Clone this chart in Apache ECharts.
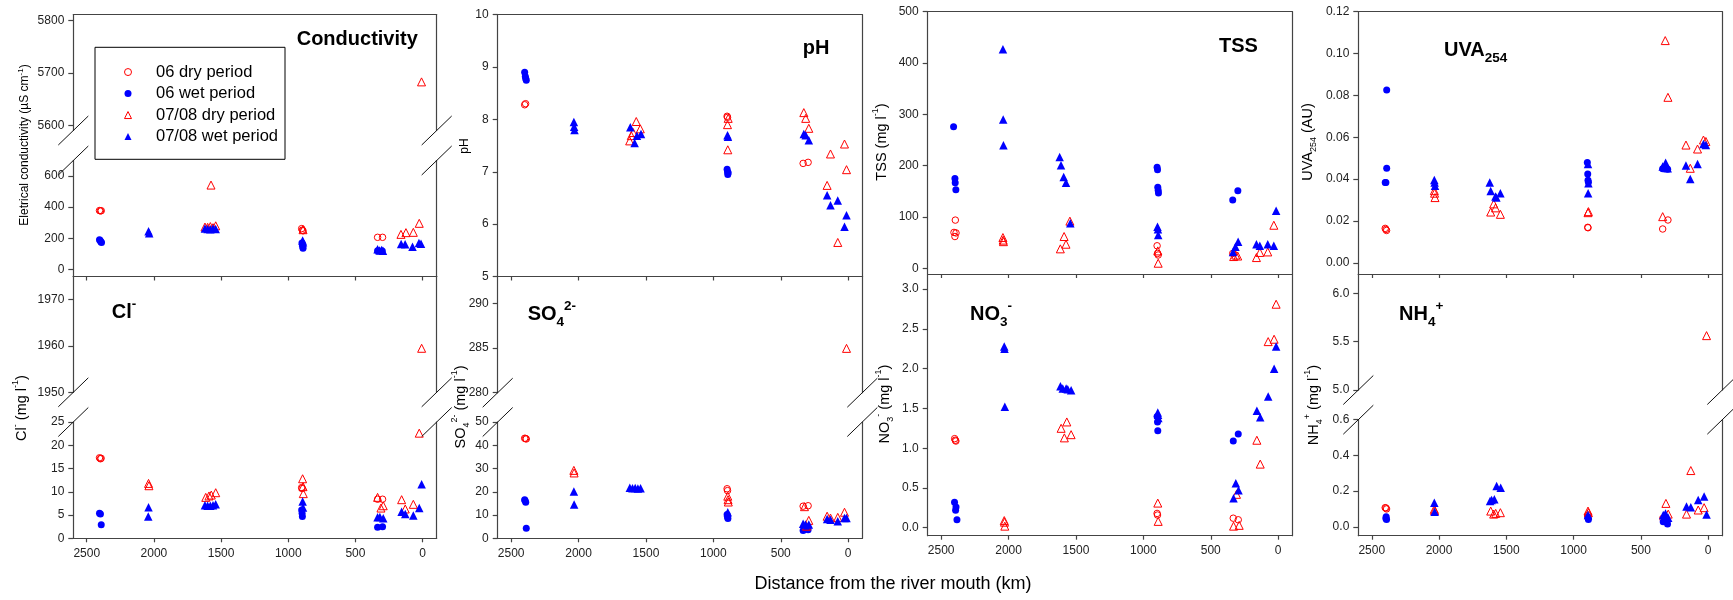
<!DOCTYPE html>
<html><head><meta charset="utf-8">
<script src="https://cdn.jsdelivr.net/npm/echarts@6/dist/echarts.min.js"></script>
<style>html,body{margin:0;padding:0;background:#fff}#c{width:1733px;height:600px}</style>
</head><body><div id="c"></div>
<script>
// ---------------- data ----------------
const seriesNames = ['06 dry period', '06 wet period', '07/08 dry period', '07/08 wet period'];
const xTicks = [0, 500, 1000, 1500, 2000, 2500];

// Conductivity (µS/cm)  [distance km, value]
const cond_d06 = [[2405,378],[2398,376],[2392,377],[900,262],[895,252],[890,248],[335,206],[298,206]];
const cond_w06 = [[2405,190],[2400,185],[2395,178],[2390,172],[898,170],[895,158],[892,145],[890,135],[335,120],[300,118]];
const cond_d07 = [[1620,272],[1600,270],[1575,542],[1580,275],[1560,268],[1540,280],[890,255],[161,225],[124,236],[69,238],[25,296],[8,5683]];
const cond_w07 = [[2040,245],[2035,232],[1620,262],[1600,260],[1580,258],[1560,262],[1540,260],[893,185],[890,175],[335,130],[320,122],[305,125],[295,120],[160,163],[130,162],[75,146],[27,170],[12,165]];
const cond_upTicks = [5600, 5700, 5800];
const cond_loTicks = [0, 200, 400, 600];

// pH
const ph_d06 = [[2400,8.28],[2393,8.30],[898,8.06],[895,8.04],[334,7.16],[297,7.18]];
const ph_w06 = [[2400,8.90],[2395,8.82],[2392,8.78],[2388,8.75],[898,7.05],[895,7.00],[893,6.95],[890,6.98]];
const ph_d07 = [[1621,7.59],[1609,7.69],[1595,7.75],[1572,7.96],[1542,7.82],[895,7.90],[893,7.42],[890,8.02],[329,8.13],[315,8.02],[292,7.83],[156,6.74],[131,7.34],[77,5.65],[27,7.53],[12,7.04]];
const ph_w07 = [[2035,7.95],[2033,7.86],[2030,7.80],[1616,7.85],[1584,7.55],[1567,7.69],[1537,7.72],[895,7.70],[892,7.67],[329,7.72],[315,7.70],[292,7.60],[156,6.55],[131,6.36],[77,6.45],[27,5.95],[12,6.17]];
const ph_ticks = [5, 6, 7, 8, 9, 10];

// TSS (mg/l)
const tss_d06 = [[2395,94],[2405,70],[2390,69],[2398,62],[898,44],[895,29],[890,26],[337,29]];
const tss_w06 = [[2408,276],[2398,175],[2396,167],[2391,153],[898,197],[895,192],[893,158],[890,152],[888,147],[337,133],[299,151]];
const tss_d07 = [[2042,60],[2040,55],[2038,52],[1616,38],[1588,62],[1574,47],[1545,92],[893,34],[890,10],[330,23],[315,26],[300,24],[161,21],[136,31],[77,32],[32,84]];
const tss_w07 = [[2042,427],[2040,290],[2038,240],[1621,217],[1611,201],[1591,178],[1574,167],[1542,88],[895,81],[892,76],[890,65],[335,32],[317,42],[297,52],[161,47],[136,44],[77,47],[32,44],[15,112]];
const tss_ticks = [0, 100, 200, 300, 400, 500];

// UVA254 (AU)
const uva_d06 = [[2400,0.0165],[2395,0.0160],[2390,0.0155],[895,0.0170],[893,0.0168],[338,0.0162],[299,0.0205]];
const uva_w06 = [[2389,0.0826],[2389,0.0452],[2400,0.0384],[2395,0.0384],[898,0.0480],[895,0.0425],[893,0.0395],[890,0.0385],[338,0.0450],[301,0.0447]];
const uva_d07 = [[2035,0.0345],[2033,0.0333],[2030,0.0312],[1616,0.0243],[1594,0.0282],[1580,0.0263],[1544,0.0232],[893,0.0240],[890,0.0245],[319,0.1062],[299,0.0791],[338,0.0221],[165,0.0563],[133,0.0452],[79,0.0544],[35,0.0587],[17,0.0580]];
const uva_w07 = [[2035,0.0396],[2033,0.0384],[2030,0.0369],[1623,0.0384],[1616,0.0344],[1581,0.0317],[1574,0.0312],[1544,0.0333],[893,0.0473],[892,0.0333],[890,0.0380],[338,0.0460],[316,0.0479],[301,0.0452],[165,0.0465],[133,0.0401],[79,0.0473],[35,0.0568],[17,0.0563]];
const uva_ticks = [0, 0.02, 0.04, 0.06, 0.08, 0.10, 0.12];

// Cl- (mg/l)
const cl_d06 = [[2405,17.3],[2398,17.1],[2393,17.2],[900,10.9],[897,10.7],[335,8.4],[298,8.4]];
const cl_w06 = [[2405,5.4],[2398,5.2],[2392,2.9],[900,6.1],[897,5.4],[895,4.7],[335,2.4],[298,2.5]];
const cl_d07 = [[2040,11.8],[2037,11.3],[1614,8.8],[1590,9.1],[1573,9.3],[1540,9.8],[893,12.8],[890,11.1],[888,9.6],[335,8.8],[310,6.5],[293,7.0],[156,8.3],[129,6.3],[69,7.3],[25,22.6],[7,1959.5]];
const cl_w07 = [[2040,6.7],[2042,4.7],[1620,7.1],[1600,7.0],[1580,7.0],[1560,7.1],[1540,7.3],[893,7.9],[890,6.6],[335,4.5],[318,4.6],[293,4.3],[156,5.7],[129,5.2],[69,4.9],[25,6.5],[7,11.6]];
const cl_upTicks = [1950, 1960, 1970];
const cl_loTicks = [0, 5, 10, 15, 20, 25];

// SO4 2- (mg/l)
const so4_d06 = [[2400,43.0],[2393,42.9],[2388,42.7],[898,21.3],[895,20.5],[334,13.8],[297,14.0]];
const so4_w06 = [[2400,16.6],[2397,16.2],[2392,15.5],[2388,4.3],[898,10.2],[895,9.2],[892,8.5],[334,3.4],[297,3.7]];
const so4_d07 = [[2035,29.2],[2033,28.1],[893,18.1],[891,16.6],[889,15.6],[324,13.6],[309,5.2],[292,7.7],[156,9.5],[131,8.7],[77,9.0],[27,11.2],[12,284.96]];
const so4_w07 = [[2035,20.1],[2033,14.5],[1620,21.7],[1600,21.5],[1580,21.6],[1560,21.4],[1540,21.5],[893,11.2],[334,6.3],[317,5.9],[292,5.9],[156,8.3],[131,8.0],[77,7.3],[27,8.7],[12,8.7]];
const so4_upTicks = [280, 285, 290];
const so4_loTicks = [0, 10, 20, 30, 40, 50];

// NO3- (mg/l)
const no3_d06 = [[2400,1.12],[2395,1.10],[2391,1.09],[898,0.18],[895,0.16],[333,0.12],[296,0.10]];
const no3_w06 = [[2401,0.32],[2390,0.26],[2393,0.22],[2383,0.10],[898,1.40],[895,1.33],[893,1.22],[333,1.09],[296,1.18]];
const no3_d07 = [[2032,0.09],[2030,0.07],[2028,0.02],[1610,1.25],[1586,1.13],[1568,1.33],[1536,1.17],[893,0.31],[890,0.08],[331,0.02],[309,0.42],[289,0.03],[158,1.10],[133,0.80],[74,2.34],[30,2.37],[15,2.81]];
const no3_w07 = [[2032,2.28],[2030,2.25],[2028,1.52],[1615,1.78],[1598,1.75],[1573,1.75],[1561,1.74],[1536,1.73],[893,1.45],[891,1.42],[889,1.38],[331,0.37],[314,0.56],[294,0.47],[158,1.47],[133,1.39],[74,1.65],[30,2.00],[15,2.28]];
const no3_ticks = [0, 0.5, 1.0, 1.5, 2.0, 2.5, 3.0];

// NH4+ (mg/l)
const nh4_d06 = [[2400,0.107],[2395,0.105],[2390,0.100],[893,0.066],[337,0.047]];
const nh4_w06 = [[2395,0.047],[2393,0.056],[2390,0.041],[895,0.056],[892,0.048],[890,0.041],[334,0.028],[302,0.015]];
const nh4_d07 = [[2035,0.098],[2033,0.090],[1616,0.088],[1594,0.071],[1579,0.075],[1544,0.079],[893,0.088],[890,0.079],[314,0.131],[297,0.071],[161,0.071],[129,0.315],[74,0.094],[30,0.107],[12,5.5625]];
const nh4_w07 = [[2035,0.135],[2033,0.084],[1621,0.144],[1609,0.150],[1589,0.154],[1572,0.229],[1542,0.219],[893,0.066],[334,0.066],[317,0.075],[297,0.051],[161,0.113],[129,0.109],[74,0.150],[30,0.169],[12,0.069]];
const nh4_upTicks = [5.0, 5.5, 6.0];
const nh4_loTicks = [0, 0.2, 0.4, 0.6];

// ---------------- styling / layout ----------------
const FONT = "'Liberation Sans', Arial, Helvetica, sans-serif";
const FRAME = '#444';
const LABEL = '#222';
const markers = [
  {symbol: 'circle', size: 6.5, itemStyle: {color: 'rgba(0,0,0,0)', borderColor: '#ff0000', borderWidth: 1, opacity: 1}},
  {symbol: 'circle', size: 7, itemStyle: {color: '#0000ff', opacity: 1}},
  {symbol: 'triangle', size: 8, itemStyle: {color: 'rgba(0,0,0,0)', borderColor: '#ff0000', borderWidth: 1, opacity: 1}},
  {symbol: 'triangle', size: 8.5, itemStyle: {color: '#0000ff', opacity: 1}}
];
const f0 = v => String(v);
const f1 = v => v.toFixed(1);
const f2 = v => v.toFixed(2);

const panels = [
  {L: 73.3, R: 436.7, xLabels: false, fmt: f0, data: [cond_d06, cond_w06, cond_d07, cond_w07],
   segs: [{top: 14.7, bottom: 130.5, min: 5590, max: 5811.5, ticks: cond_upTicks},
          {top: 160.5, bottom: 276.5, min: -46, max: 700, ticks: cond_loTicks}]},
  {L: 497.7, R: 862.3, xLabels: false, fmt: f0, data: [ph_d06, ph_w06, ph_d07, ph_w07],
   segs: [{top: 14.7, bottom: 276.5, min: 5, max: 10, ticks: ph_ticks}]},
  {L: 927.7, R: 1292.3, xLabels: false, fmt: f0, data: [tss_d06, tss_w06, tss_d07, tss_w07],
   segs: [{top: 11.7, bottom: 274, min: -11, max: 500, ticks: tss_ticks}]},
  {L: 1358.3, R: 1722.3, xLabels: false, fmt: f2, data: [uva_d06, uva_w06, uva_d07, uva_w07],
   segs: [{top: 11.7, bottom: 274, min: -0.0053, max: 0.12, ticks: uva_ticks}]},
  {L: 73.3, R: 436.7, xLabels: true, fmt: f0, data: [cl_d06, cl_w06, cl_d07, cl_w07],
   segs: [{top: 276.5, bottom: 392.3, min: 1950, max: 1975, ticks: cl_upTicks},
          {top: 422, bottom: 538.3, min: 0, max: 25, ticks: cl_loTicks}]},
  {L: 497.7, R: 862.3, xLabels: true, fmt: f0, data: [so4_d06, so4_w06, so4_d07, so4_w07],
   segs: [{top: 276.5, bottom: 392.7, min: 280, max: 293, ticks: so4_upTicks},
          {top: 422, bottom: 538.3, min: 0, max: 50, ticks: so4_loTicks}]},
  {L: 927.7, R: 1292.3, xLabels: true, fmt: f1, data: [no3_d06, no3_w06, no3_d07, no3_w07],
   segs: [{top: 274, bottom: 535.7, min: -0.1, max: 3.19, ticks: no3_ticks}]},
  {L: 1358.3, R: 1722.3, xLabels: true, fmt: f1, data: [nh4_d06, nh4_w06, nh4_d07, nh4_w07],
   segs: [{top: 274, bottom: 390, min: 5.0, max: 6.2, ticks: nh4_upTicks},
          {top: 419.7, bottom: 535.7, min: -0.05, max: 0.6, ticks: nh4_loTicks}]}
];

const grid = [], xAxis = [], yAxis = [], series = [], graphic = [];
const lineStyle = {color: FRAME, width: 1.2};

panels.forEach(p => {
  p.segs.forEach((s, si) => {
    const gi = grid.length;
    const isTop = si === 0, isBottom = si === p.segs.length - 1;
    grid.push({left: p.L, top: s.top, width: p.R - p.L, height: s.bottom - s.top});
    const xi = xAxis.length;
    xAxis.push({
      gridIndex: gi, type: 'value', position: 'bottom', inverse: true, min: -105, max: 2600,
      show: isBottom,
      axisLine: {show: true, onZero: false, lineStyle},
      axisTick: {show: true, length: 4, customValues: xTicks, lineStyle},
      axisLabel: {show: p.xLabels, customValues: xTicks, formatter: f0, margin: 9, fontSize: 12, color: LABEL, fontFamily: FONT},
      splitLine: {show: false}
    });
    xAxis.push({
      gridIndex: gi, type: 'value', position: 'top', min: 0, max: 1, show: isTop,
      axisLine: {show: true, onZero: false, lineStyle},
      axisTick: {show: false}, axisLabel: {show: false}, splitLine: {show: false}
    });
    const yi = yAxis.length;
    yAxis.push({
      gridIndex: gi, type: 'value', position: 'left', min: s.min, max: s.max,
      axisLine: {show: true, onZero: false, lineStyle},
      axisTick: {show: true, length: 5, customValues: s.ticks, lineStyle},
      axisLabel: {customValues: s.ticks, formatter: p.fmt, margin: 9, fontSize: 12, color: LABEL, fontFamily: FONT},
      splitLine: {show: false}
    });
    yAxis.push({
      gridIndex: gi, type: 'value', position: 'right', min: 0, max: 1,
      axisLine: {show: true, onZero: false, lineStyle},
      axisTick: {show: false}, axisLabel: {show: false}, splitLine: {show: false}
    });
    p.data.forEach((arr, k) => {
      const m = markers[k];
      series.push({
        type: 'scatter', name: seriesNames[k], xAxisIndex: xi, yAxisIndex: yi,
        data: arr.filter(d => d[1] >= s.min && d[1] <= s.max),
        symbol: m.symbol, symbolSize: m.size, itemStyle: m.itemStyle,
        silent: true, z: 2 + k, emphasis: {disabled: true}
      });
    });
  });
  if (p.segs.length === 2) {
    const ys = [p.segs[0].bottom, p.segs[1].top];
    [p.L, p.R].forEach(x => ys.forEach(y => {
      graphic.push({type: 'line', silent: true, z: 10,
        shape: {x1: x - 15, y1: y + 14.5, x2: x + 15, y2: y - 14.5},
        style: {stroke: '#111', lineWidth: 1}});
    }));
  }
});

// titles inside panels
function txt(x, y, text, opts) {
  return Object.assign({type: 'text', x, y, silent: true, z: 20,
    style: Object.assign({text, fontFamily: FONT, fill: '#000', textVerticalAlign: 'middle'}, opts.style || {})},
    opts.rotation ? {rotation: opts.rotation} : {});
}
const titleRich = {
  sub: {fontSize: 13.5, fontWeight: 'bold', fontFamily: FONT, lineHeight: 13, verticalAlign: 'bottom'},
  sup: {fontSize: 13.5, fontWeight: 'bold', fontFamily: FONT, lineHeight: 13, verticalAlign: 'top'}
};
const tStyle = {fontSize: 20, fontWeight: 'bold', lineHeight: 30, textAlign: 'left', rich: titleRich};
graphic.push(txt(296.7, 39, 'Conductivity', {style: tStyle}));
graphic.push(txt(802.7, 48, 'pH', {style: tStyle}));
graphic.push(txt(1219, 46, 'TSS', {style: tStyle}));
graphic.push(txt(1444, 50, 'UVA{sub|254}', {style: tStyle}));
graphic.push(txt(111.7, 312, 'Cl{sup|-}', {style: tStyle}));
graphic.push(txt(527.7, 314, 'SO{sub|4}{sup|2-}', {style: tStyle}));
graphic.push(txt(970, 314, 'NO{sub|3}{sup|-}', {style: tStyle}));
graphic.push(txt(1399, 314, 'NH{sub|4}{sup|+}', {style: tStyle}));

// y-axis titles (rotated)
function yTitle(x, y, text, size) {
  const rich = {
    sup: {fontSize: Math.round(size * 0.65), fontFamily: FONT, lineHeight: Math.round(size * 0.65), verticalAlign: 'top'},
    sub: {fontSize: Math.round(size * 0.65), fontFamily: FONT, lineHeight: Math.round(size * 0.65), verticalAlign: 'bottom'}
  };
  return txt(x, y, text, {rotation: Math.PI / 2,
    style: {fontSize: size, lineHeight: Math.round(size * 1.45), textAlign: 'center', rich}});
}
graphic.push(yTitle(25, 145, 'Eletrical conductivity (µS cm{sup|-1})', 12));
graphic.push(yTitle(22, 408, 'Cl{sup|-} (mg l{sup|-1})', 14.5));
graphic.push(yTitle(465, 146, 'pH', 12));
graphic.push(yTitle(461, 407, 'SO{sub|4}{sup|2-} (mg l{sup|-1})', 14.5));
graphic.push(yTitle(882, 142, 'TSS (mg l{sup|-1})', 14.5));
graphic.push(yTitle(885, 404, 'NO{sub|3}{sup|-} (mg l{sup|-1})', 14.5));
graphic.push(yTitle(1308, 142, 'UVA{sub|254} (AU)', 14.5));
graphic.push(yTitle(1314, 405, 'NH{sub|4}{sup|+} (mg l{sup|-1})', 14.5));

// x-axis title
graphic.push(txt(893, 584, 'Distance from the river mouth (km)', {style: {fontSize: 18, textAlign: 'center'}}));

const chart = echarts.init(document.getElementById('c'), null, {renderer: 'canvas'});
chart.setOption({
  animation: false,
  backgroundColor: '#fff',
  textStyle: {fontFamily: FONT},
  legend: {
    left: 95, top: 47.3, orient: 'vertical', selectedMode: false,
    borderColor: '#000', borderWidth: 1, padding: [14, 7, 12, 29],
    itemWidth: 7, itemHeight: 7, itemGap: 0, symbolKeepAspect: true,
    textStyle: {fontSize: 16.5, lineHeight: 21.5, color: '#000', fontFamily: FONT, padding: [0, 0, 0, 19.5]},
    data: seriesNames.map((n, k) => ({name: n, icon: markers[k].symbol, itemStyle: markers[k].itemStyle}))
  },
  grid, xAxis, yAxis, series, graphic
});
</script>
</body></html>
